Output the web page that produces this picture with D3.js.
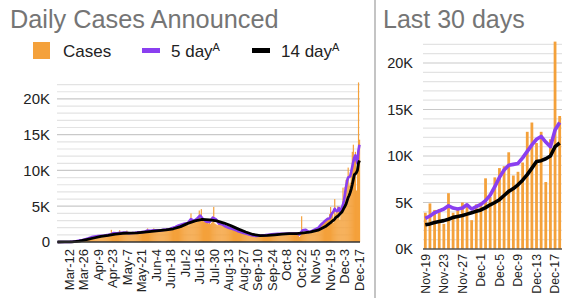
<!DOCTYPE html>
<html><head><meta charset="utf-8">
<script src="https://cdn.jsdelivr.net/npm/d3@7"></script>
<style>
body{margin:0;background:#fff;}
svg{display:block;font-family:"Liberation Sans",Arial,Helvetica,sans-serif;}
</style>
</head><body>
<svg id="c" width="571" height="298"></svg>
<script>
// ---------------- DATA ----------------
const startDate = "2020-03-01";
// Daily cases, Mar-1 .. Nov-18
const dailyCasesEarly = [
  0,0,0,1,2,3,5,6,8,10,15,20,25,40,50,70,90,110,130,160,200,240,280,320,350,400,450,480,520,560,600,
  650,700,720,780,800,750,820,860,880,900,920,880,850,900,950,980,1000,1050,1100,1050,1200,1700,1300,1250,1150,1100,1200,1250,1300,1650,
  1200,1150,1100,1250,1300,1350,1600,1250,1200,1150,1100,1250,1300,1350,1300,1250,1200,1350,1400,1450,1400,1350,1300,1400,1500,1550,1900,1500,1450,1500,1550,
  1600,1900,1550,1500,1600,1650,1700,1600,1550,1650,1700,1750,1800,1700,1650,1750,1800,1850,1900,1950,2000,1900,2050,2200,2300,2400,2200,2300,2500,2600,
  2500,2450,2600,2800,2700,2300,2900,4000,2900,2800,2900,3000,2950,2800,3100,4400,3000,4600,3000,2900,2850,2800,3100,2700,2600,2800,2500,2700,2800,4900,2600,
  2500,2400,2350,2600,2700,2400,2500,2800,2300,2200,2150,2050,2200,1950,1850,2000,1750,1700,1850,1600,1550,1500,1400,1500,1300,1300,1250,1200,1150,1200,1100,
  1100,1000,1050,950,900,950,850,800,900,850,800,850,900,950,880,900,950,1000,950,1050,1000,1100,1050,1000,1100,1150,1050,1100,1200,1100,
  1150,1100,1200,1150,1100,1200,1150,1100,1250,1200,1150,1100,1200,1250,1150,1100,1200,1250,1150,1200,700,900,3600,1400,1300,1250,1300,1350,1400,1300,1450,
  1500,1600,1550,1700,1800,1900,2000,1900,2100,2300,2500,2700,2600,2900,3100,3000,3400,3300
];
// Last 30 days, Nov-19 .. Dec-18
const last30Cases = [3900,4900,4200,4300,2700,6000,3900,4300,5000,4800,3100,4800,5000,7600,5600,
  7700,8700,8900,10400,7900,8300,9300,12600,13600,11400,12600,7200,11800,22300,14300];
const last30Avg5 = [3300,3550,3900,4100,4300,4650,4400,4300,4400,4750,4300,4550,4800,5200,5800,
  6700,7700,8500,9000,9100,9200,9800,10500,11200,11800,12100,11500,11000,12800,13600];
const last30Avg14 = [2600,2700,2850,2950,3050,3200,3400,3500,3600,3750,3900,4050,4200,4450,4750,
  5000,5300,5750,6200,6500,6900,7400,8000,8700,9400,9500,9700,10000,11000,11400];
// 5-day average, every 3rd day from Mar-1 .. Nov-17
const avg5EarlyStep = 3;
const avg5Early = [0,1,4,9,22,56,112,200,290,400,520,
  680,760,830,880,900,980,1040,1250,1200,1300,
  1280,1330,1230,1250,1290,1350,1380,1420,1600,1560,
  1620,1640,1620,1700,1740,1780,1950,2100,2300,2450,
  2580,2650,3200,2950,3300,3700,3150,2850,2800,3400,
  3200,2600,2500,2200,2000,1900,1750,1550,1400,1250,
  1150,1000,900,850,880,920,960,1020,1060,1100,1130,
  1150,1150,1180,1180,1180,1200,1050,1650,1720,1380,
  1550,1750,1950,2450,2850,3200];
// 14-day average, every 7th day from Mar-1 .. Nov-15
const avg14EarlyStep = 7;
const avg14Early = [0,5,30,120,330,560,780,920,1100,1220,1250,1280,1380,1480,1600,1700,1850,2150,
  2600,2950,3150,3100,2950,2650,2250,1800,1400,1050,900,920,1000,1100,1160,1180,1280,1400,1650,2150];

const leftTickLabels = ["Mar-12","Mar-26","Apr-9","Apr-23","May-7","May-21","Jun-4","Jun-18","Jul-2","Jul-16",
  "Jul-30","Aug-13","Aug-27","Sep-10","Sep-24","Oct-8","Oct-22","Nov-5","Nov-19","Dec-3","Dec-17"];
const rightTickLabels = ["Nov-19","Nov-23","Nov-27","Dec-1","Dec-5","Dec-9","Dec-13","Dec-17"];
const yTickValues = [0,5000,10000,15000,20000];
const leftYLabels = ["0","5K","10K","15K","20K"];
const rightYLabels = ["0K","5K","10K","15K","20K"];
const legendLabels = ["Cases","5 day","14 day"];

// ---------------- STYLE ----------------
const ORANGE = "#f4a13b", PURPLE = "#8a3ff0", BLACK = "#000";
const svg = d3.select("#c");
const parse = d3.timeParse("%Y-%m-%d");
const parseTick = d3.timeParse("%b-%d-%Y");
const start = parse(startDate);
const dailyCases = dailyCasesEarly.concat(last30Cases);
const days = dailyCases.map((v,i)=>d3.timeDay.offset(start,i));
const endDate = d3.timeDay.offset(start, dailyCases.length);
const last30Days = days.slice(-30);

// ---------- LEFT CHART ----------
const xL = d3.scaleTime().domain([start,endDate]).range([57,360]);
const dayW = xL(d3.timeDay.offset(start,1)) - xL(start);
const yL = d3.scaleLinear().domain([0,22500]).range([242,81]);
const grid = d3.range(1000,22001,1000);

const gL = svg.append("g");
gL.selectAll("line.grid").data(grid).join("line")
  .attr("x1",57).attr("x2",360).attr("y1",d=>yL(d)).attr("y2",d=>yL(d))
  .attr("stroke",d=>d%5000===0?"#c9c9c9":"#e3e3e3").attr("stroke-width",1.2);

gL.selectAll("rect.bar").data(dailyCases).join("rect")
  .attr("x",(d,i)=>xL(days[i])).attr("width",dayW+0.15)
  .attr("y",d=>yL(d)).attr("height",d=>yL(0)-yL(d)).attr("fill",ORANGE);

const lineL = d3.line().x(d=>xL(d.date)+dayW/2).y(d=>yL(d.v));
const avg5L = avg5Early.map((v,i)=>({date:d3.timeDay.offset(start,i*avg5EarlyStep),v}))
  .concat(last30Avg5.map((v,i)=>({date:last30Days[i],v})));
const avg14L = avg14Early.map((v,i)=>({date:d3.timeDay.offset(start,i*avg14EarlyStep),v}))
  .concat(last30Avg14.map((v,i)=>({date:last30Days[i],v})));
gL.append("path").datum(avg5L).attr("d",lineL).attr("fill","none").attr("stroke",PURPLE)
  .attr("stroke-width",2.6).attr("stroke-linejoin","round");
gL.append("path").datum(avg14L).attr("d",lineL).attr("fill","none").attr("stroke",BLACK)
  .attr("stroke-width",2.8).attr("stroke-linejoin","round");
gL.append("line").attr("x1",57).attr("x2",360).attr("y1",yL(0)).attr("y2",yL(0))
  .attr("stroke","#333").attr("stroke-width",1.6);

const yAxL = gL.append("g").attr("transform","translate(57,0)")
  .call(d3.axisLeft(yL).tickValues(yTickValues).tickFormat((d,i)=>leftYLabels[i]).tickSize(0).tickPadding(7));
yAxL.select(".domain").remove();
yAxL.selectAll("text").attr("font-size",15).attr("fill","#222").attr("font-family",null);

const leftTickDates = leftTickLabels.map(s=>parseTick(s+"-2020"));
const xAxL = gL.append("g").attr("transform",`translate(${dayW/2},${yL(0)})`)
  .call(d3.axisBottom(xL).tickValues(leftTickDates).tickFormat((d,i)=>leftTickLabels[i]).tickSize(0));
xAxL.select(".domain").remove();
xAxL.selectAll("text").attr("transform","rotate(-90)").attr("x",-7).attr("y",0).attr("dy","0.35em")
  .attr("text-anchor","end").attr("font-size",13).attr("fill","#222").attr("font-family",null);

// Title + legend
svg.append("text").attr("x",10).attr("y",28).text("Daily Cases Announced")
  .attr("font-size",25.3).attr("fill","#757575");
const leg = svg.append("g");
leg.append("rect").attr("x",33).attr("y",42).attr("width",17).attr("height",17).attr("fill",ORANGE);
leg.append("line").attr("x1",142).attr("x2",160).attr("y1",50.5).attr("y2",50.5).attr("stroke",PURPLE).attr("stroke-width",5);
leg.append("line").attr("x1",252).attr("x2",270).attr("y1",50.5).attr("y2",50.5).attr("stroke",BLACK).attr("stroke-width",5);
const legX = [63,171,281];
legendLabels.forEach((lab,i)=>{
  const t = leg.append("text").attr("x",legX[i]).attr("y",57).attr("font-size",17).attr("fill","#222").text(lab);
  if(i>0) t.append("tspan").attr("dy",-6).attr("font-size",11).text("A");
});

// Separator
svg.append("line").attr("x1",375).attr("x2",375).attr("y1",0).attr("y2",298).attr("stroke","#c4c4c4").attr("stroke-width",2);

// ---------- RIGHT CHART ----------
const xR = d3.scaleBand().domain(last30Days).range([423,562]).paddingInner(0.4).paddingOuter(0.2);
const yR = d3.scaleLinear().domain([0,22500]).range([249,39.75]);
const gR = svg.append("g");
gR.selectAll("line.grid").data(grid).join("line")
  .attr("x1",423).attr("x2",562).attr("y1",d=>yR(d)).attr("y2",d=>yR(d))
  .attr("stroke",d=>d%5000===0?"#c9c9c9":"#e3e3e3").attr("stroke-width",1.2);
gR.selectAll("rect.bar").data(last30Cases).join("rect")
  .attr("x",(d,i)=>xR(last30Days[i])).attr("width",xR.bandwidth())
  .attr("y",d=>yR(d)).attr("height",d=>yR(0)-yR(d)).attr("fill",ORANGE);
gR.append("line").attr("x1",423).attr("x2",562).attr("y1",yR(0)).attr("y2",yR(0))
  .attr("stroke","#555").attr("stroke-width",1.5);
const lineR = d3.line().x((d,i)=>xR(last30Days[i])+xR.bandwidth()/2).y(d=>yR(d));
gR.append("path").datum(last30Avg5).attr("d",lineR).attr("fill","none").attr("stroke",PURPLE)
  .attr("stroke-width",3.6).attr("stroke-linejoin","round");
gR.append("path").datum(last30Avg14).attr("d",lineR).attr("fill","none").attr("stroke",BLACK)
  .attr("stroke-width",3.6).attr("stroke-linejoin","round");

const yAxR = gR.append("g").attr("transform","translate(423,0)")
  .call(d3.axisLeft(yR).tickValues(yTickValues).tickFormat((d,i)=>rightYLabels[i]).tickSize(0).tickPadding(10));
yAxR.select(".domain").remove();
yAxR.selectAll("text").attr("font-size",14.5).attr("fill","#222").attr("font-family",null);

const rightTickDates = rightTickLabels.map(s=>parseTick(s+"-2020"));
const xAxR = gR.append("g").attr("transform",`translate(0,${yR(0)})`)
  .call(d3.axisBottom(xR).tickValues(rightTickDates).tickFormat((d,i)=>rightTickLabels[i]).tickSize(0));
xAxR.select(".domain").remove();
xAxR.selectAll("text").attr("transform","rotate(-90)").attr("x",-5).attr("y",0).attr("dy","0.35em")
  .attr("text-anchor","end").attr("font-size",12.3).attr("fill","#222").attr("font-family",null);

svg.append("text").attr("x",383).attr("y",28).text("Last 30 days")
  .attr("font-size",25).attr("fill","#757575");
</script>
</body></html>
